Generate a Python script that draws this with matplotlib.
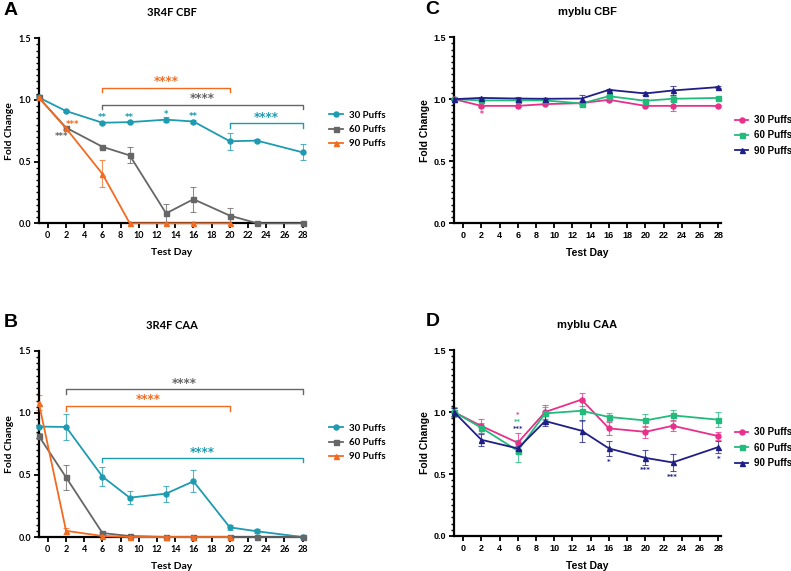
import numpy as np
import matplotlib
matplotlib.use('Agg')
import matplotlib.pyplot as plt
from matplotlib.ticker import MultipleLocator

nan = np.nan
days = [-1, 2, 6, 9, 13, 16, 20, 23, 28]
x_ticks = list(range(0, 29, 2))
series_labels = ['30 Puffs', '60 Puffs', '90 Puffs']

# Panel A - 3R4F CBF
a30 = [1.02, 0.91, 0.815, 0.82, 0.84, 0.825, 0.665, 0.67, 0.575]
a30_err = [0.02, 0.01, 0.01, 0.01, 0.02, 0.01, 0.07, 0.01, 0.065]
a60 = [1.02, 0.775, 0.62, 0.55, 0.08, 0.195, 0.062, 0.0, 0.0]
a60_err = [0.02, 0.01, 0.01, 0.065, 0.08, 0.1, 0.06, 0.0, 0.0]
a90 = [1.02, 0.77, 0.40, 0.0, 0.0, 0.0, 0.0, nan, nan]
a90_err = [0.02, 0.01, 0.11, 0.0, 0.0, 0.0, 0.0, nan, nan]

# Panel B - 3R4F CAA
b30 = [0.89, 0.887, 0.487, 0.317, 0.35, 0.449, 0.078, 0.046, 0.0]
b30_err = [0.0, 0.105, 0.075, 0.05, 0.065, 0.09, 0.02, 0.015, 0.005]
b60 = [0.815, 0.481, 0.032, 0.008, 0.0, 0.0, 0.0, 0.0, 0.0]
b60_err = [0.02, 0.1, 0.01, 0.005, 0.0, 0.0, 0.0, 0.0, 0.0]
b90 = [1.083, 0.05, 0.008, 0.0, 0.0, 0.0, 0.0, nan, nan]
b90_err = [0.06, 0.025, 0.005, 0.0, 0.0, 0.0, 0.0, nan, nan]

# Panel C - myblu CBF
c30 = [1.0, 0.946, 0.946, 0.96, 0.968, 0.995, 0.946, 0.946, 0.946]
c30_err = [0.005, 0.01, 0.01, 0.01, 0.01, 0.01, 0.01, 0.04, 0.01]
c60 = [1.0, 0.99, 0.99, 0.99, 0.965, 1.024, 0.987, 1.003, 1.01]
c60_err = [0.005, 0.01, 0.01, 0.01, 0.02, 0.01, 0.01, 0.02, 0.01]
c90 = [1.0, 1.01, 1.005, 1.003, 1.005, 1.075, 1.046, 1.07, 1.097]
c90_err = [0.005, 0.01, 0.01, 0.01, 0.03, 0.01, 0.01, 0.035, 0.01]

# Panel D - myblu CAA
d30 = [1.0, 0.887, 0.752, 1.0, 1.10, 0.868, 0.84, 0.889, 0.806]
d30_err = [0.04, 0.06, 0.08, 0.06, 0.055, 0.05, 0.05, 0.045, 0.03]
d60 = [1.0, 0.873, 0.687, 0.989, 1.01, 0.96, 0.932, 0.973, 0.938]
d60_err = [0.03, 0.04, 0.09, 0.05, 0.08, 0.03, 0.05, 0.045, 0.06]
d90 = [1.0, 0.776, 0.706, 0.927, 0.849, 0.706, 0.63, 0.593, 0.717]
d90_err = [0.03, 0.05, 0.02, 0.04, 0.09, 0.06, 0.06, 0.065, 0.05]

teal, gray, orange = '#1E9BB0', '#666666', '#F26B21'
pink, green, navy = '#E8308A', '#22BB7C', '#1F1F87'
markers = ['o', 's', '^']

# brackets: (x0, x1, y, color)
a_brackets = [(6, 20, 1.10, orange), (6, 28, 0.96, gray), (20, 28, 0.81, teal)]
b_brackets = [(2, 28, 1.19, gray), (2, 20, 1.054, orange), (6, 28, 0.637, teal)]

# star labels: (x, y, text, color, size)
a_stars = [(13, 1.15, '****', orange, 8.5), (17, 1.01, '****', gray, 8.5), (24, 0.86, '****', teal, 8.5),
           (6, 0.855, '**', teal, 6), (9, 0.86, '**', teal, 6), (13, 0.885, '*', teal, 6),
           (16, 0.865, '**', teal, 6), (2.7, 0.80, '***', orange, 6), (1.5, 0.70, '***', gray, 6)]
b_stars = [(15, 1.24, '****', gray, 8.5), (11, 1.105, '****', orange, 8.5), (17, 0.685, '****', teal, 8.5)]
c_stars = [(2, 0.875, '*', pink, 5.5)]
d_stars = [(6, 0.975, '*', pink, 4.8), (6, 0.92, '**', green, 4.8), (6, 0.865, '***', navy, 4.8),
           (16, 0.60, '*', navy, 5), (20, 0.53, '***', navy, 5), (23, 0.472, '***', navy, 5),
           (28, 0.62, '*', navy, 5)]


def draw_panel(rect, letter, title, data, errs, colors, brackets, stars, legend_xy, font):
    ax = fig.add_axes(rect)
    handles = []
    for vals, err, col, mk, lab in zip(data, errs, colors, markers, series_labels):
        ax.errorbar(days, vals, yerr=err, fmt='none', ecolor=col, alpha=0.75,
                    elinewidth=0.8, capsize=2.5, capthick=0.8, zorder=2, clip_on=False)
        line, = ax.plot(days, vals, color=col, marker=mk, markersize=3.6, linewidth=1.3,
                        label=lab, zorder=3, clip_on=False)
        handles.append(line)

    for x0, x1, y, col in brackets:
        ax.plot([x0, x0, x1, x1], [y - 0.035, y, y, y - 0.035], color=col, linewidth=1.0,
                clip_on=False)
    for x, y, txt, col, size in stars:
        ax.text(x, y, txt, color=col, fontsize=size, fontweight='bold', ha='center', va='center',
                family='DejaVu Sans')

    ax.set_xlim(-1, 28.3)
    ax.set_ylim(0, 1.5)
    ax.set_xticks(x_ticks)
    ax.yaxis.set_major_locator(MultipleLocator(0.5))
    ax.yaxis.set_minor_locator(MultipleLocator(0.05))
    ax.yaxis.set_major_formatter(matplotlib.ticker.FormatStrFormatter('%.1f'))
    for s in ['top', 'right']:
        ax.spines[s].set_visible(False)
    for s in ['left', 'bottom']:
        ax.spines[s].set_linewidth(1.6)
    ax.tick_params(axis='both', which='major', length=3.5, width=1.3, labelsize=6.5, pad=2)
    ax.tick_params(axis='y', which='minor', length=2, width=1.0)
    for lbl in ax.get_xticklabels() + ax.get_yticklabels():
        lbl.set_fontweight('bold')
        lbl.set_family(font)

    ax.set_xlabel('Test Day', fontsize=7.5, fontweight='bold', family=font, labelpad=6)
    ax.set_ylabel('Fold Change', fontsize=7.5, fontweight='bold', family=font, labelpad=3)
    ax.set_title(title, fontsize=8, fontweight='bold', family=font, pad=16)

    fig.legend(handles=handles, loc='center left', bbox_to_anchor=legend_xy, frameon=False,
               prop={'family': font, 'weight': 'bold', 'size': 7}, handlelength=1.4,
               handletextpad=0.6, labelspacing=0.55)
    fig.text(rect[0] - 0.044 if letter in 'AB' else rect[0] - 0.036,
             rect[1] + rect[3] + 0.064, letter, fontsize=14, fontweight='bold',
             family='Liberation Sans', va='top', ha='left')


fig = plt.figure(figsize=(7.91, 5.71), dpi=100)

draw_panel([0.049, 0.609, 0.337, 0.324], 'A', '3R4F CBF', [a30, a60, a90],
           [a30_err, a60_err, a90_err], [teal, gray, orange], a_brackets, a_stars,
           (0.405, 0.773), 'Lato')
draw_panel([0.049, 0.0595, 0.337, 0.326], 'B', '3R4F CAA', [b30, b60, b90],
           [b30_err, b60_err, b90_err], [teal, gray, orange], b_brackets, b_stars,
           (0.405, 0.225), 'Lato')
draw_panel([0.574, 0.609, 0.3375, 0.326], 'C', 'myblu CBF', [c30, c60, c90],
           [c30_err, c60_err, c90_err], [pink, green, navy], [], c_stars,
           (0.918, 0.763), 'Liberation Sans')
draw_panel([0.574, 0.0613, 0.3375, 0.3257], 'D', 'myblu CAA', [d30, d60, d90],
           [d30_err, d60_err, d90_err], [pink, green, navy], [], d_stars,
           (0.918, 0.216), 'Liberation Sans')

fig.savefig('out.png', dpi=100)
